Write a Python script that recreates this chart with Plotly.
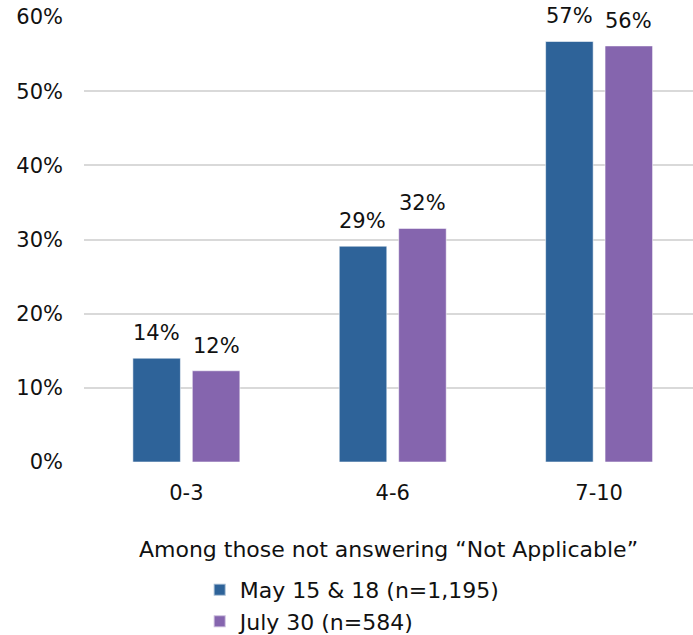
import plotly.graph_objects as go

# Rating buckets on the x axis
categories = ["0-3", "4-6", "7-10"]

# Share of respondents per bucket, by survey wave
may_values = [0.140, 0.291, 0.567]
july_values = [0.123, 0.315, 0.561]

series_names = ["May 15 & 18 (n=1,195)", "July 30 (n=584)"]
series_colors = ["#2E6399", "#8565AE"]

y_ticks = [0, 0.1, 0.2, 0.3, 0.4, 0.5, 0.6]

FONT = "DejaVu Sans"

fig = go.Figure()
for name, vals, col in zip(series_names, [may_values, july_values], series_colors):
    fig.add_trace(go.Bar(
        x=categories, y=vals, name=name,
        marker=dict(color=col, line=dict(color="rgba(255,255,255,0.55)", width=1)),
    ))

slot_shift = 29.75
for i, vals in enumerate([may_values, july_values]):
    shift = -slot_shift if i == 0 else slot_shift
    for c, v in zip(categories, vals):
        fig.add_annotation(
            x=c, y=v, text=f"{v:.0%}", showarrow=False,
            xshift=shift, yshift=11, yanchor="bottom",
            font=dict(family=FONT, size=21, color="#111111"),
        )

fig.update_layout(
    width=693, height=635,
    margin=dict(l=84, r=0, t=17, b=173, autoexpand=False),
    paper_bgcolor="white", plot_bgcolor="white",
    barmode="group", bargap=0.424, bargroupgap=0.2,
    font=dict(family=FONT, size=21, color="#111111"),
    showlegend=True,
    legend=dict(
        orientation="v", x=0.19, xanchor="left",
        yref="container", y=0.104, yanchor="top",
        font=dict(family=FONT, size=22, color="#111111"),
        tracegroupgap=0, itemsizing="constant",
    ),
    xaxis=dict(
        range=[-0.496, 2.455], showgrid=False, showline=False, ticks="",
        automargin=False, ticklabelstandoff=16,
        tickfont=dict(family=FONT, size=21),
        title=dict(text="Among those not answering “Not Applicable”",
                   font=dict(family=FONT, size=22), standoff=37),
    ),
    yaxis=dict(
        range=[0, 0.6], tickvals=y_ticks, tickformat=".0%",
        showgrid=True, gridcolor="#D9D9D9", gridwidth=2,
        zeroline=False, showline=False, ticks="",
        automargin=False, ticklabelstandoff=20,
        tickfont=dict(family=FONT, size=21),
    ),
)

fig.write_html("out.html")
